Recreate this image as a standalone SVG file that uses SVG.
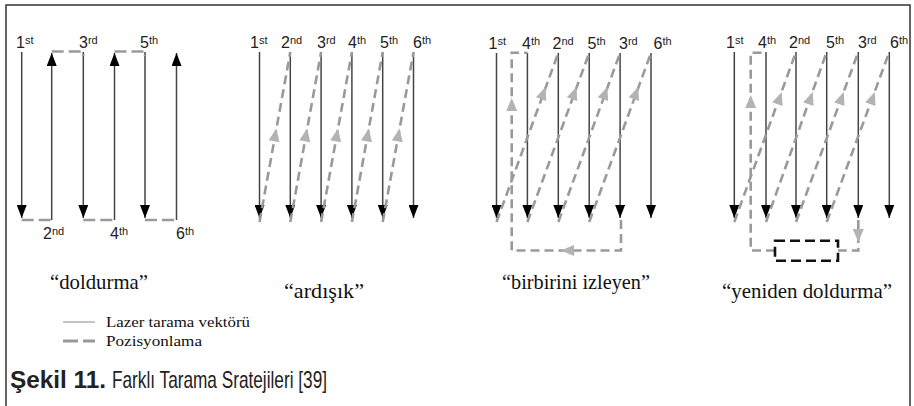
<svg xmlns="http://www.w3.org/2000/svg" xmlns:xlink="http://www.w3.org/1999/xlink" width="914" height="406" viewBox="0 0 914 406">
<style>
.scan{stroke:#444;stroke-width:1.5;fill:none}
.pos{stroke:#9a9a9a;stroke-width:2.6;fill:none;stroke-dasharray:9 5}
.pos1{stroke:#9a9a9a;stroke-width:2.6;fill:none;stroke-dasharray:12 5}
.lbl{font-family:"Liberation Sans",Arial,sans-serif;font-size:16px;fill:#222}
.sup{font-size:11px}
.cap{font-family:"Liberation Serif","Times New Roman",serif;font-size:22px;fill:#111}
.leg{font-family:"Liberation Serif","Times New Roman",serif;font-size:15px;fill:#111}
.fig{font-family:"Liberation Sans",Arial,sans-serif;font-size:24px;fill:#222}
</style>
<defs>
<marker id="ah" viewBox="0 0 13 10" refX="13" refY="5" markerWidth="13" markerHeight="10" markerUnits="userSpaceOnUse" orient="auto">
<path d="M0,0 L13,5 L0,10 Z" fill="#000"/>
</marker>
<path id="ga" d="M0,0 L-13,-5.5 L-13,5.5 Z" fill="#b3b3b3"/>
</defs>
<path d="M6,406 V5 H910 V406" fill="none" stroke="#333" stroke-width="1.5"/>

<g id="connectors">
<g id="p1-scan" class="scan" marker-end="url(#ah)">
<line x1="21.7" y1="52" x2="21.7" y2="218"/>
<line x1="51.7" y1="220" x2="51.7" y2="53"/>
<line x1="83.3" y1="52" x2="83.3" y2="218"/>
<line x1="114.5" y1="220" x2="114.5" y2="53"/>
<line x1="145" y1="52" x2="145" y2="218"/>
<line x1="176.5" y1="220" x2="176.5" y2="53"/>
</g>
<g id="p1-pos" class="pos1">
<path d="M21.7,220 H51.7"/>
<path d="M51.7,51.5 H83.3 V56"/>
<path d="M83.3,220 H114.5"/>
<path d="M114.5,51.5 H145 V56"/>
<path d="M145,220 H176.5"/>
</g>
<g id="p2-scan" class="scan" marker-end="url(#ah)">
<line x1="259.5" y1="52" x2="259.5" y2="218"/>
<line x1="290.3" y1="52" x2="290.3" y2="218"/>
<line x1="321.1" y1="52" x2="321.1" y2="218"/>
<line x1="351.9" y1="52" x2="351.9" y2="218"/>
<line x1="382.7" y1="52" x2="382.7" y2="218"/>
<line x1="413.5" y1="52" x2="413.5" y2="218"/>
</g>
<g id="p2-pos" class="pos">
<line x1="259.5" y1="222" x2="290.3" y2="52"/>
<line x1="290.3" y1="222" x2="321.1" y2="52"/>
<line x1="321.1" y1="222" x2="351.9" y2="52"/>
<line x1="351.9" y1="222" x2="382.7" y2="52"/>
<line x1="382.7" y1="222" x2="413.5" y2="52"/>
</g>
<use xlink:href="#ga" href="#ga" transform="translate(276.4,128.5) rotate(-79.7)"/>
<use xlink:href="#ga" href="#ga" transform="translate(307.2,128.5) rotate(-79.7)"/>
<use xlink:href="#ga" href="#ga" transform="translate(338,128.5) rotate(-79.7)"/>
<use xlink:href="#ga" href="#ga" transform="translate(368.8,128.5) rotate(-79.7)"/>
<use xlink:href="#ga" href="#ga" transform="translate(399.6,128.5) rotate(-79.7)"/>
<g id="p3-scan" class="scan" marker-end="url(#ah)">
<line x1="496.5" y1="53" x2="496.5" y2="218"/>
<line x1="527.4" y1="53" x2="527.4" y2="218"/>
<line x1="558.3" y1="53" x2="558.3" y2="218"/>
<line x1="589.2" y1="53" x2="589.2" y2="218"/>
<line x1="620.1" y1="53" x2="620.1" y2="218"/>
<line x1="651" y1="53" x2="651" y2="218"/>
</g>
<g id="p3-pos" class="pos">
<line x1="496.5" y1="222" x2="558.3" y2="53"/>
<line x1="527.4" y1="222" x2="589.2" y2="53"/>
<line x1="558.3" y1="222" x2="620.1" y2="53"/>
<line x1="589.2" y1="222" x2="651" y2="53"/>
<path d="M621,220 V250.5 H511.7 V52.7 H527.4"/>
</g>
<use xlink:href="#ga" href="#ga" transform="translate(545.6,87) rotate(-70)"/>
<use xlink:href="#ga" href="#ga" transform="translate(576.5,87) rotate(-70)"/>
<use xlink:href="#ga" href="#ga" transform="translate(607.4,87) rotate(-70)"/>
<use xlink:href="#ga" href="#ga" transform="translate(638.3,87) rotate(-70)"/>
<use xlink:href="#ga" href="#ga" transform="translate(561,250.5) rotate(180)"/>
<use xlink:href="#ga" href="#ga" transform="translate(511.7,98) rotate(-90)"/>
<g id="p4-scan" class="scan" marker-end="url(#ah)">
<line x1="734.3" y1="52" x2="734.3" y2="218"/>
<line x1="766" y1="52" x2="766" y2="218"/>
<line x1="796" y1="52" x2="796" y2="218"/>
<line x1="826.7" y1="52" x2="826.7" y2="218"/>
<line x1="858.3" y1="52" x2="858.3" y2="218"/>
<line x1="889.3" y1="52" x2="889.3" y2="218"/>
</g>
<g id="p4-pos" class="pos">
<line x1="734.3" y1="222" x2="796" y2="52"/>
<line x1="766" y1="222" x2="826.7" y2="52"/>
<line x1="796" y1="222" x2="858.3" y2="52"/>
<line x1="826.7" y1="222" x2="889.3" y2="52"/>
<path d="M858.3,220 V250.5 H838"/>
<path d="M775,250.5 H750.7 V52.7 H766"/>
</g>
<rect x="775" y="240.7" width="63" height="20" fill="none" stroke="#111" stroke-width="2.6" stroke-dasharray="10 5"/>
<use xlink:href="#ga" href="#ga" transform="translate(781.8,92) rotate(-70)"/>
<use xlink:href="#ga" href="#ga" transform="translate(812.8,92) rotate(-70)"/>
<use xlink:href="#ga" href="#ga" transform="translate(843.8,92) rotate(-70)"/>
<use xlink:href="#ga" href="#ga" transform="translate(874.8,92) rotate(-70)"/>
<use xlink:href="#ga" href="#ga" transform="translate(858.3,242) rotate(90)"/>
<use xlink:href="#ga" href="#ga" transform="translate(750.7,95) rotate(-90)"/>
</g>

<g id="p1-labels" class="lbl">
<text x="16" y="48">1<tspan class="sup" dy="-4">st</tspan></text>
<text x="79" y="48">3<tspan class="sup" dy="-4">rd</tspan></text>
<text x="140" y="48">5<tspan class="sup" dy="-4">th</tspan></text>
<text x="43" y="239">2<tspan class="sup" dy="-4">nd</tspan></text>
<text x="110" y="239">4<tspan class="sup" dy="-4">th</tspan></text>
<text x="176" y="239">6<tspan class="sup" dy="-4">th</tspan></text>
</g>
<g id="p2-labels" class="lbl">
<text x="250" y="48">1<tspan class="sup" dy="-4">st</tspan></text>
<text x="281" y="48">2<tspan class="sup" dy="-4">nd</tspan></text>
<text x="317" y="48">3<tspan class="sup" dy="-4">rd</tspan></text>
<text x="348" y="48">4<tspan class="sup" dy="-4">th</tspan></text>
<text x="380" y="48">5<tspan class="sup" dy="-4">th</tspan></text>
<text x="413" y="48">6<tspan class="sup" dy="-4">th</tspan></text>
</g>
<g id="p3-labels" class="lbl">
<text x="488.5" y="49">1<tspan class="sup" dy="-4">st</tspan></text>
<text x="522" y="49">4<tspan class="sup" dy="-4">th</tspan></text>
<text x="552.5" y="49">2<tspan class="sup" dy="-4">nd</tspan></text>
<text x="587.5" y="49">5<tspan class="sup" dy="-4">th</tspan></text>
<text x="619" y="49">3<tspan class="sup" dy="-4">rd</tspan></text>
<text x="653.5" y="49">6<tspan class="sup" dy="-4">th</tspan></text>
</g>
<g id="p4-labels" class="lbl">
<text x="726" y="48">1<tspan class="sup" dy="-4">st</tspan></text>
<text x="758" y="48">4<tspan class="sup" dy="-4">th</tspan></text>
<text x="789" y="48">2<tspan class="sup" dy="-4">nd</tspan></text>
<text x="826" y="48">5<tspan class="sup" dy="-4">th</tspan></text>
<text x="858" y="48">3<tspan class="sup" dy="-4">rd</tspan></text>
<text x="890" y="48">6<tspan class="sup" dy="-4">th</tspan></text>
</g>

<g id="titles" class="cap">
<text x="50" y="289" textLength="98" lengthAdjust="spacingAndGlyphs">“doldurma”</text>
<text x="284" y="298" textLength="80" lengthAdjust="spacingAndGlyphs">“ardışık”</text>
<text x="502" y="289" textLength="148" lengthAdjust="spacingAndGlyphs">“birbirini izleyen”</text>
<text x="722" y="298" textLength="170" lengthAdjust="spacingAndGlyphs">“yeniden doldurma”</text>
</g>

<g id="legend">
<line x1="63" y1="322" x2="95" y2="322" stroke="#c4c4c4" stroke-width="2"/>
<line x1="63" y1="341" x2="95" y2="341" stroke="#999" stroke-width="3" stroke-dasharray="15 5"/>
<text class="leg" x="106" y="327" textLength="144" lengthAdjust="spacingAndGlyphs">Lazer tarama vektörü</text>
<text class="leg" x="106" y="346" textLength="96" lengthAdjust="spacingAndGlyphs">Pozisyonlama</text>
</g>

<g id="caption" class="fig">
<text x="10" y="388" font-weight="bold" textLength="96" lengthAdjust="spacingAndGlyphs">Şekil 11.</text>
<text x="112" y="388" textLength="215" lengthAdjust="spacingAndGlyphs">Farklı Tarama Sratejileri [39]</text>
</g>
</svg>
